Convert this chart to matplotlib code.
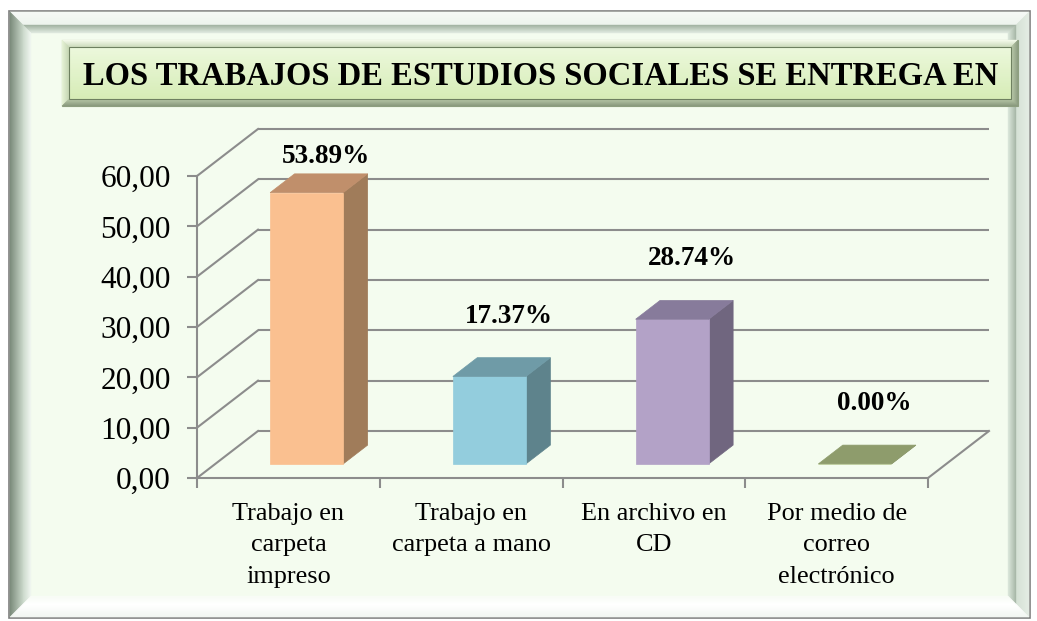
import matplotlib.pyplot as plt
import numpy as np
from matplotlib.patches import Polygon, Rectangle

# data
categories = ['Trabajo en\ncarpeta\nimpreso', 'Trabajo en\ncarpeta a mano',
              'En archivo en\nCD', 'Por medio de\ncorreo\nelectrónico']
values = [53.89, 17.37, 28.74, 0.00]
value_labels = ['53.89%', '17.37%', '28.74%', '0.00%']
yticks = [0, 10, 20, 30, 40, 50, 60]
ytick_labels = ['0,00', '10,00', '20,00', '30,00', '40,00', '50,00', '60,00']
title = 'LOS TRABAJOS DE ESTUDIOS SOCIALES SE ENTREGA EN'

front_colors = ['#FAC090', '#93CDDD', '#B3A2C7', '#C3D69B']
top_colors = ['#C08F6B', '#6F9BA7', '#877B9B', '#8E9C6C']
side_colors = ['#A07C5A', '#5E838C', '#70667F', '#75805A']

plt.rcParams['font.family'] = ['Liberation Serif', 'DejaVu Serif']

W, H = 1037, 621
GRID = '#8C8C8C'
MINT = '#F4FCEF'

fig = plt.figure(figsize=(W / 100, H / 100), dpi=100, facecolor='white')

# background / frame layer in pixel coordinates
bg = fig.add_axes([0, 0, 1, 1], zorder=0)
bg.set_xlim(0, W)
bg.set_ylim(H, 0)
bg.axis('off')


def mix(c1, c2, t):
    a = np.array(plt.matplotlib.colors.to_rgb(c1))
    b = np.array(plt.matplotlib.colors.to_rgb(c2))
    return tuple(a + (b - a) * t)


def bevel(x0, y0, x1, y1, w, sides):
    # sides: top, left, right, bottom -> (outer colour, inner colour)
    for k in range(w):
        t = k / max(w - 1, 1)
        a, b, c, d = x0 + k, y0 + k, x1 - k, y1 - k
        polys = {
            'top': [(a, b), (c, b), (c - 1, b + 1), (a + 1, b + 1)],
            'left': [(a, b), (a + 1, b + 1), (a + 1, d - 1), (a, d)],
            'right': [(c, b), (c, d), (c - 1, d - 1), (c - 1, b + 1)],
            'bottom': [(a, d), (c, d), (c - 1, d - 1), (a + 1, d - 1)],
        }
        for side, pts in polys.items():
            col = mix(sides[side][0], sides[side][1], t)
            bg.add_patch(Polygon(pts, closed=True, facecolor=col,
                                 edgecolor=col, lw=0.3))


# outer picture frame
bg.add_patch(Rectangle((9, 11), 1021, 607, facecolor=MINT,
                       edgecolor='#7F7F7F', lw=1.2))
bevel(10, 12, 1029, 617, 13, {
    'top': ('#F6F9F6', '#EEF4EE'),
    'left': ('#7C8C7C', '#C4D2C4'),
    'right': ('#E4ECE4', '#D6E2D6'),
    'bottom': ('#F2F6F2', '#FFFFFF'),
})
bevel(23, 25, 1016, 604, 8, {
    'top': ('#A4B4A4', '#DCE6DC'),
    'left': ('#CCDACC', '#EEF5EE'),
    'right': ('#A8B8A8', '#D8E4D8'),
    'bottom': ('#FFFFFF', '#F8FCF6'),
})

# title box
bg.add_patch(Rectangle((62, 40), 956, 66, facecolor='#DDF0C2',
                       edgecolor='#8FA080', lw=0.8))
bevel(62, 40, 1018, 106, 7, {
    'top': ('#F4FAEA', '#D0DEC0'),
    'left': ('#E6F2D6', '#C8D8B6'),
    'right': ('#8E9E82', '#B8C8A8'),
    'bottom': ('#8A9A7E', '#B4C4A4'),
})
ny = 40
for i in range(ny):
    t = i / (ny - 1)
    bg.add_patch(Rectangle((69, 47 + i * 52 / ny), 942, 52 / ny + 0.5,
                           facecolor=mix('#ECF8DC', '#D6ECB6', t),
                           edgecolor='none'))
bg.add_patch(Rectangle((69, 47), 942, 52, facecolor='none',
                       edgecolor='#6E8060', lw=0.8))
bg.text(541, 85, title, ha='center', va='baseline', fontsize=23.5,
        fontweight='bold', color='black')

# chart axes: x in category units, y in value units
ax = fig.add_axes([197 / W, 143 / H, 731 / W, 302 / H], zorder=2)
ax.set_xlim(0, len(categories))
ax.set_ylim(0, 60)
ax.patch.set_visible(False)

n = len(categories)
ddx = 61 / (731 / n)      # full depth offset in data units (x)
ddy = 47 / (302 / 60)     # full depth offset in data units (y)
z0, z1 = 0.3, 0.7          # bar depth range
bw = 0.4

# walls and floor
for v in yticks:
    ax.plot([ddx, n + ddx], [v + ddy, v + ddy], color=GRID, lw=1.5,
            clip_on=False, zorder=1, solid_capstyle='butt')
    ax.plot([0, ddx], [v, v + ddy], color=GRID, lw=1.5, clip_on=False,
            zorder=1)
ax.plot([n, n + ddx], [0, ddy], color=GRID, lw=1.5, clip_on=False, zorder=1)


def P(x, y, z):
    return (x + z * ddx, y + z * ddy)


for i, v in enumerate(values):
    xa, xb = i + 0.5 - bw / 2, i + 0.5 + bw / 2
    front = [P(xa, 0, z0), P(xb, 0, z0), P(xb, v, z0), P(xa, v, z0)]
    top = [P(xa, v, z0), P(xb, v, z0), P(xb, v, z1), P(xa, v, z1)]
    side = [P(xb, 0, z0), P(xb, 0, z1), P(xb, v, z1), P(xb, v, z0)]
    for pts, col in [(side, side_colors[i]), (front, front_colors[i]),
                     (top, top_colors[i])]:
        ax.add_patch(Polygon(pts, closed=True, facecolor=col, edgecolor=col,
                             lw=0.5, clip_on=False, zorder=3))
    lx = P(i + 0.5, 0, 0.62)[0]
    ly = P(0, min(v + 12, 61), z0)[1]
    ax.text(lx, ly, value_labels[i], ha='center', va='center', fontsize=19.5,
            fontweight='bold', zorder=4, clip_on=False)

# axes styling
for s in ['top', 'right']:
    ax.spines[s].set_visible(False)
for s in ['left', 'bottom']:
    ax.spines[s].set_color(GRID)
    ax.spines[s].set_linewidth(1.5)
    ax.spines[s].set_zorder(2)

ax.set_yticks(yticks)
ax.set_yticklabels(ytick_labels, fontsize=22.5)
ax.tick_params(axis='y', length=7, width=1.5, color=GRID, pad=12)

ax.set_xticks(np.arange(n + 1))
ax.set_xticklabels([])
ax.set_xticks(np.arange(n) + 0.5, minor=True)
ax.set_xticklabels(categories, minor=True, fontsize=18.9)
for t in ax.get_xticklabels(minor=True):
    t.set_linespacing(1.55)
ax.tick_params(axis='x', which='major', length=7, width=1.5, color=GRID)
ax.tick_params(axis='x', which='minor', length=0, pad=18)

fig.savefig('out.png', dpi=100, facecolor='white')
